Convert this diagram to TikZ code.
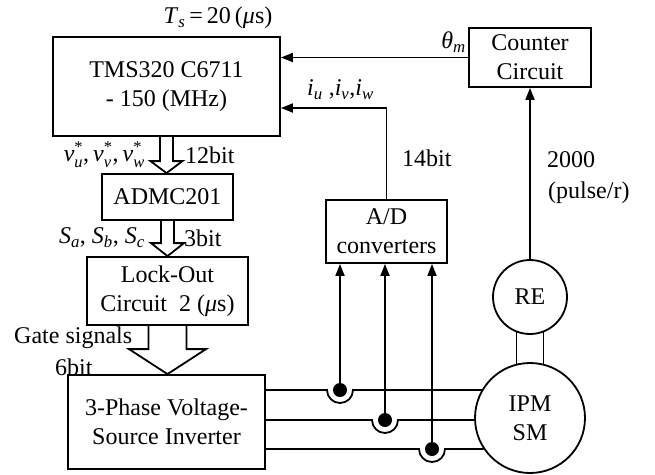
\documentclass[tikz,border=0pt]{standalone}
\usepackage{fontspec}
\setmainfont{Liberation Serif}
\usetikzlibrary{arrows.meta,calc}
\newcommand{\idxfont}{\fontsize{16.5}{17}\selectfont}
\newcommand{\ital}[2]{\textit{#1}\textsubscript{\textit{#2}}}
\newcommand{\vref}[1]{\textit{v}$^{\mbox{\idxfont *}}_{\mbox{\idxfont\itshape #1}}$}
% hollow bus arrow: from, to, half shaft, half head, head length
\newcommand{\fatarrow}[5]{%
  \draw[fat] let \p1=(#1), \p2=(#2) in
    (\x1-#3,\y1) -- (\x1-#3,\y2+#5) -- (\x1-#4,\y2+#5) -- (\x1,\y2)
    -- (\x1+#4,\y2+#5) -- (\x1+#3,\y2+#5) -- (\x1+#3,\y1);}
\tikzset{
  blk/.style={draw, line width=1.8pt, align=center, inner sep=0pt},
  mach/.style={draw, circle, line width=1.8pt, align=center, inner sep=0pt},
  arr/.style={-{Triangle[length=12pt,width=9pt]}, line width=1.8pt},
  fat/.style={line width=1.8pt, line join=miter},
  wire/.style={line width=1.8pt},
  dotc/.style={circle, fill, inner sep=0pt, minimum size=14pt},
  lbl/.style={inner sep=0pt},
}
\begin{document}
\begin{tikzpicture}[x=1pt,y=-1pt,font=\fontsize{24}{29}\selectfont]
  \useasboundingbox (0,0) rectangle (655,474);
  % controller chain
  \node[blk, minimum width=227pt, minimum height=99pt] (dsp) at (166.5,86.5) {TMS320 C6711\\- 150 (MHz)};
  \node[blk, minimum width=131pt, minimum height=46pt] (admc) at (167.5,197) {ADMC201};
  \node[blk, minimum width=161pt, minimum height=68pt] (lock) at (167.5,291) {Lock-Out\\Circuit\ \ 2 ({\itshape μ}s)};
  \node[blk, minimum width=197pt, minimum height=94pt] (inv) at (166.5,422) {3-Phase Voltage-\\Source Inverter};
  % sensing side
  \node[blk, minimum width=121pt, minimum height=63pt] (ad) at (386.5,231.5) {A/D\\converters};
  \node[blk, minimum width=122pt, minimum height=59pt] (cnt) at (530,57.5) {Counter\\Circuit};
  \node[mach, minimum size=74pt] (re) at (530,297) {RE};
  \node[mach, minimum size=110pt] (ipm) at (530,418) {IPM\\SM};
  % bus arrows
  \fatarrow{dsp.south}{admc.north}{6.5pt}{16pt}{12pt}
  \fatarrow{admc.south}{lock.north}{6.5pt}{16.5pt}{13pt}
  \fatarrow{lock.south}{inv.north}{19pt}{38.5pt}{25pt}
  % current pick-offs
  \node[dotc] (du) at (340,390) {};
  \node[dotc] (dv) at (385,420) {};
  \node[dotc] (dw) at (432,449) {};
  \draw[wire] (inv.east |- du) -- ($(du)+(-13,0)$) arc[start angle=180,end angle=0,radius=13] -- (du -| ipm.149);
  \draw[wire] (inv.east |- dv) -- ($(dv)+(-13,0)$) arc[start angle=180,end angle=0,radius=13] -- (dv -| ipm.182);
  \draw[wire] (inv.east |- dw) -- ($(dw)+(-13,0)$) arc[start angle=180,end angle=0,radius=13] -- (dw -| ipm.214);
  \draw[arr] (du.center) -- (ad.south -| du);
  \draw[arr] (dv.center) -- (ad.south -| dv);
  \draw[arr] (dw.center) -- (ad.south -| dw);
  % feedback
  \draw[arr] (ad.north) |- ($(dsp.east)+(0,21.5)$);
  \draw[arr] (cnt.west) -- (cnt.west -| dsp.east);
  \draw[arr] (re.north) -- (cnt.south);
  \draw[wire] (re.249) -- (re.249 |- ipm.104);
  \draw[wire] (re.291) -- (re.291 |- ipm.76);
  % labels
  \node[lbl] (ts) at (218,18) {\ital{T}{s}\,=\,20\,({\itshape μ}s)};
  \node[lbl, anchor=east] (vlab) at (145,155) {\vref{u},\,\vref{v},\,\vref{w}};
  \node[lbl, anchor=west] (b12) at (185,155) {12bit};
  \node[lbl, anchor=east] (slab) at (145,238) {\ital{S}{a}, \ital{S}{b}, \ital{S}{c}};
  \node[lbl, anchor=west] (b3) at (184,238) {3bit};
  \node[lbl, anchor=west] (gate) at (14,338) {Gate signals};
  \node[lbl, anchor=west] (b6) at (55,367) {6bit};
  \node[lbl, anchor=west] (ilab) at (307,90) {\ital{i}{u} ,\ital{i}{v},\ital{i}{w}};
  \node[lbl, anchor=west] (b14) at (402,158) {14bit};
  \node[lbl, anchor=east] (th) at (466,42) {\ital{θ}{m}};
  \node[lbl, anchor=west] (pls) at (547,160) {2000};
  \node[lbl, anchor=west] (ppr) at (548,193) {(pulse/r)};
\end{tikzpicture}
\end{document}
